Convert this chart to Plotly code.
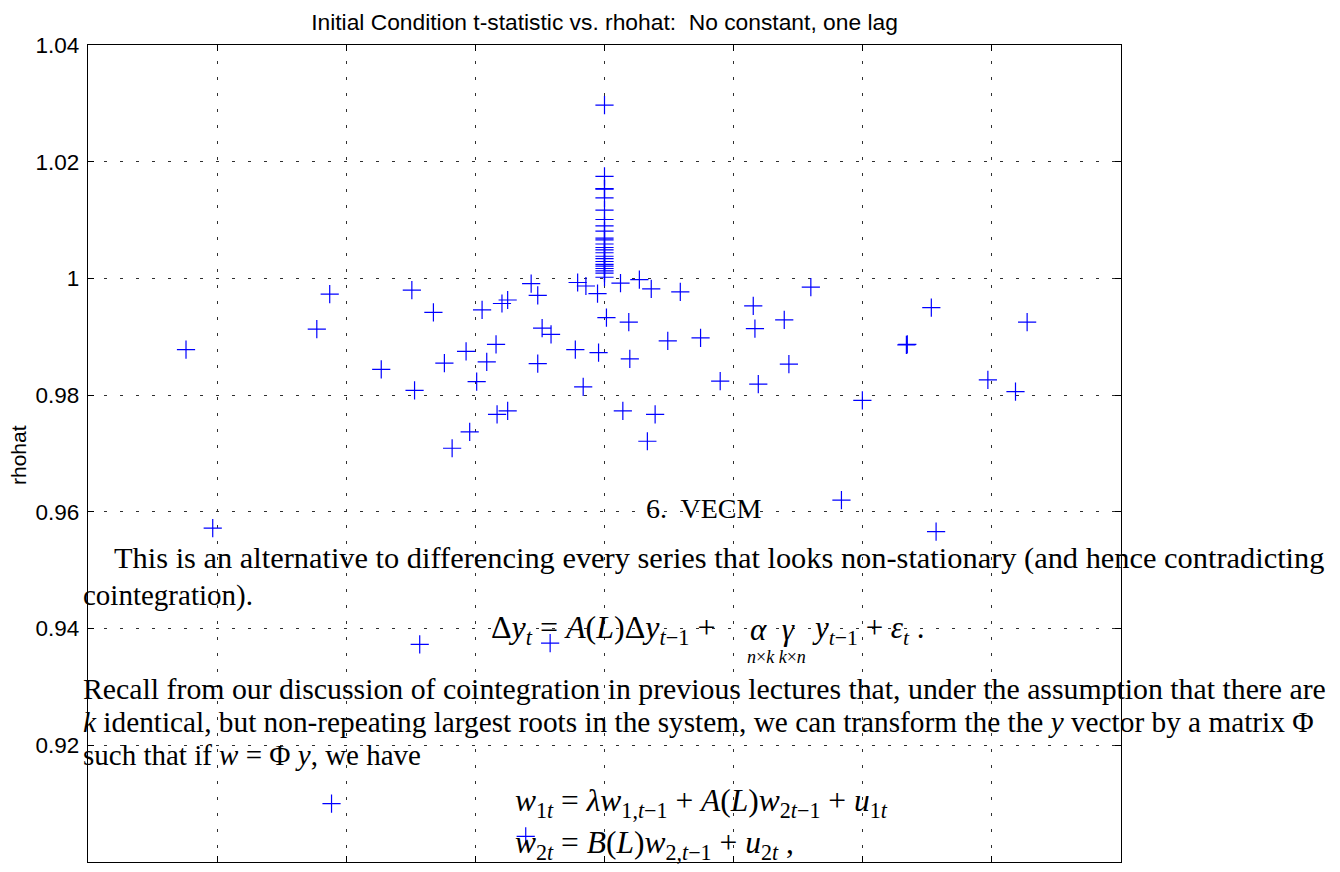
import plotly.graph_objects as go

# ---- data (t-statistic in grid units, rhohat) ----
t_stat = [
    -3.241, -3.034, -2.228, -2.128, -2.114, -1.729, -1.492, -1.471, -1.431, -1.325,
    -1.240, -1.180, -1.072, -1.044, -0.990, -0.948, -0.912, -0.840, -0.832, -0.794,
    -0.750, -0.750, -0.610, -0.568, -0.517, -0.517, -0.483, -0.421, -0.414, -0.226,
    -0.208, -0.165, -0.144, -0.054, -0.046, 0.015, 0.124, 0.142, 0.188, 0.196,
    0.270, 0.332, 0.362, 0.392, 0.490, 0.587, 0.744, 0.896, 1.152, 1.165,
    1.191, 1.392, 1.428, 1.598, 1.835, 1.997, 2.338, 2.345, 2.531, 2.568,
    2.969, 3.183, 3.273,
]
rhohat = [
    0.9878, 0.9572, 0.9913, 0.9973, 0.9100, 0.9844, 0.9980, 0.9808, 0.9373, 0.9942,
    0.9855, 0.9709, 0.9875, 0.9737, 0.9823, 0.9946, 0.9857, 0.9887, 0.9767, 0.9957,
    0.9963, 0.9773, 0.9044, 0.9991, 0.9971, 0.9854, 0.9915, 0.9375, 0.9904, 0.9878,
    0.9993, 0.9814, 0.9987, 0.9974, 0.9873, 0.9933, 0.9992, 0.9773, 0.9925, 0.9862,
    0.9998, 0.9721, 0.9982, 0.9767, 0.9893, 0.9977, 0.9898, 0.9824, 0.9953, 0.9914,
    0.9819, 0.9929, 0.9853, 0.9985, 0.9620, 0.9791, 0.9886, 0.9887, 0.9950, 0.9566,
    0.9826, 0.9806, 0.9925,
]
# explosive-root cluster at t = 0
cluster_t = [0.0] * 24
cluster_rho = [
    1.0297, 1.0175, 1.0154, 1.0153, 1.0138, 1.0117, 1.0101, 1.0090, 1.0081, 1.0069,
    1.0066, 1.0059, 1.0053, 1.0049, 1.0044, 1.0038, 1.0034, 1.0029, 1.0024, 1.0021,
    1.0017, 1.0013, 1.0009, 1.0002,
]

y_ticks = [0.90, 0.92, 0.94, 0.96, 0.98, 1.00, 1.02, 1.04]
y_tick_labels = ["0.9", "0.92", "0.94", "0.96", "0.98", "1", "1.02", "1.04"]
x_ticks = [-4, -3, -2, -1, 0, 1, 2, 3, 4]

title_text = "Initial Condition t-statistic vs. rhohat:  No constant, one lag"
y_label = "rhohat"

doc_lines = [
    "6.  VECM",
    "This is an alternative to differencing every series that looks non-stationary (and hence contradicting",
    "cointegration).",
    "Δ<i>y<sub>t</sub></i> = <i>A</i>(<i>L</i>)Δ<i>y</i><sub><i>t</i>−1</sub> +",
    "<i>α  γ</i>",
    "<i>y</i><sub><i>t</i>−1</sub> + <i>ε<sub>t</sub></i> .",
    "<i>n</i>×<i>k k</i>×<i>n</i>",
    "Recall from our discussion of cointegration in previous lectures that, under the assumption that there are",
    "<i>k</i> identical, but non-repeating largest roots in the system, we can transform the the <i>y</i> vector by a matrix Φ",
    "such that if <i>w</i> = Φ <i>y</i>, we have",
    "<i>w</i><sub>1<i>t</i></sub> = <i>λw</i><sub>1,<i>t</i>−1</sub> + <i>A</i>(<i>L</i>)<i>w</i><sub>2<i>t</i>−1</sub> + <i>u</i><sub>1<i>t</i></sub>",
    "<i>w</i><sub>2<i>t</i></sub> = <i>B</i>(<i>L</i>)<i>w</i><sub>2,<i>t</i>−1</sub> + <i>u</i><sub>2<i>t</i></sub> ,",
]

# ---- layout geometry (page has an 8px body margin) ----
OFF = 8
W, H = 1340 - OFF, 872 - OFF
L, R, T, B = 88 - OFF, 219, 45 - OFF, 10
PW, PH = W - L - R, H - T - B
X0, Y1 = 88, 862  # plot-area left / bottom on the page


def px(xs):
    return (xs - X0) / PW


def py(ys):
    return (Y1 - ys) / PH


fig = go.Figure()
fig.add_trace(go.Scatter(
    x=t_stat + cluster_t, y=rhohat + cluster_rho, mode="markers",
    marker=dict(symbol="cross-thin", size=13, color="#0000ff",
                line=dict(color="#0000ff", width=1.2)),
    showlegend=False, hoverinfo="x+y",
))

serif = "Liberation Serif"
line_pos = [  # (left x px on page, center y px on page, font size)
    (644, 508, 28),
    (112, 558, 30.4),
    (81, 595, 29),
    (489, 630, 32),
    (748, 630, 31),
    (810, 630, 31),
    (745, 657, 18),
    (81, 688, 29.8),
    (81, 722, 29.3),
    (81, 755, 29),
    (513, 803, 31.5),
    (513, 845, 31.5),
]
annotations = []
for txt, (xs, ys, fs) in zip(doc_lines, line_pos):
    annotations.append(dict(
        text=txt, xref="paper", yref="paper", x=px(xs), y=py(ys),
        xanchor="left", yanchor="middle", showarrow=False,
        font=dict(family=serif, size=fs, color="black"),
    ))
annotations.append(dict(
    text=y_label, xref="paper", yref="paper", x=px(18), y=py(455),
    xanchor="center", yanchor="middle", showarrow=False, textangle=-90,
    font=dict(family="Liberation Sans", size=21, color="black"),
))

grid = dict(showgrid=True, gridcolor="#303030", gridwidth=1, griddash="3px,13px",
            zeroline=False, showline=True, linecolor="black", linewidth=1.3,
            mirror="ticks", ticks="inside", ticklen=6, tickcolor="black",
            tickwidth=1)

fig.update_layout(
    width=W, height=H,
    margin=dict(l=L, r=R, t=T, b=B, autoexpand=False),
    paper_bgcolor="white", plot_bgcolor="white",
    title=dict(text=title_text, x=0.5, xref="paper", y=1 - (22 - OFF) / H,
               yanchor="middle",
               font=dict(family="Liberation Sans", size=22.8, color="black")),
    xaxis=dict(range=[-4, 4], tickvals=x_ticks, showticklabels=False, **grid),
    yaxis=dict(range=[0.90, 1.04], tickvals=y_ticks, ticktext=y_tick_labels,
               tickfont=dict(family="Liberation Sans", size=22.5, color="black"),
               ticklabelstandoff=3, **grid),
    annotations=annotations,
)

fig.write_html("out.html")
